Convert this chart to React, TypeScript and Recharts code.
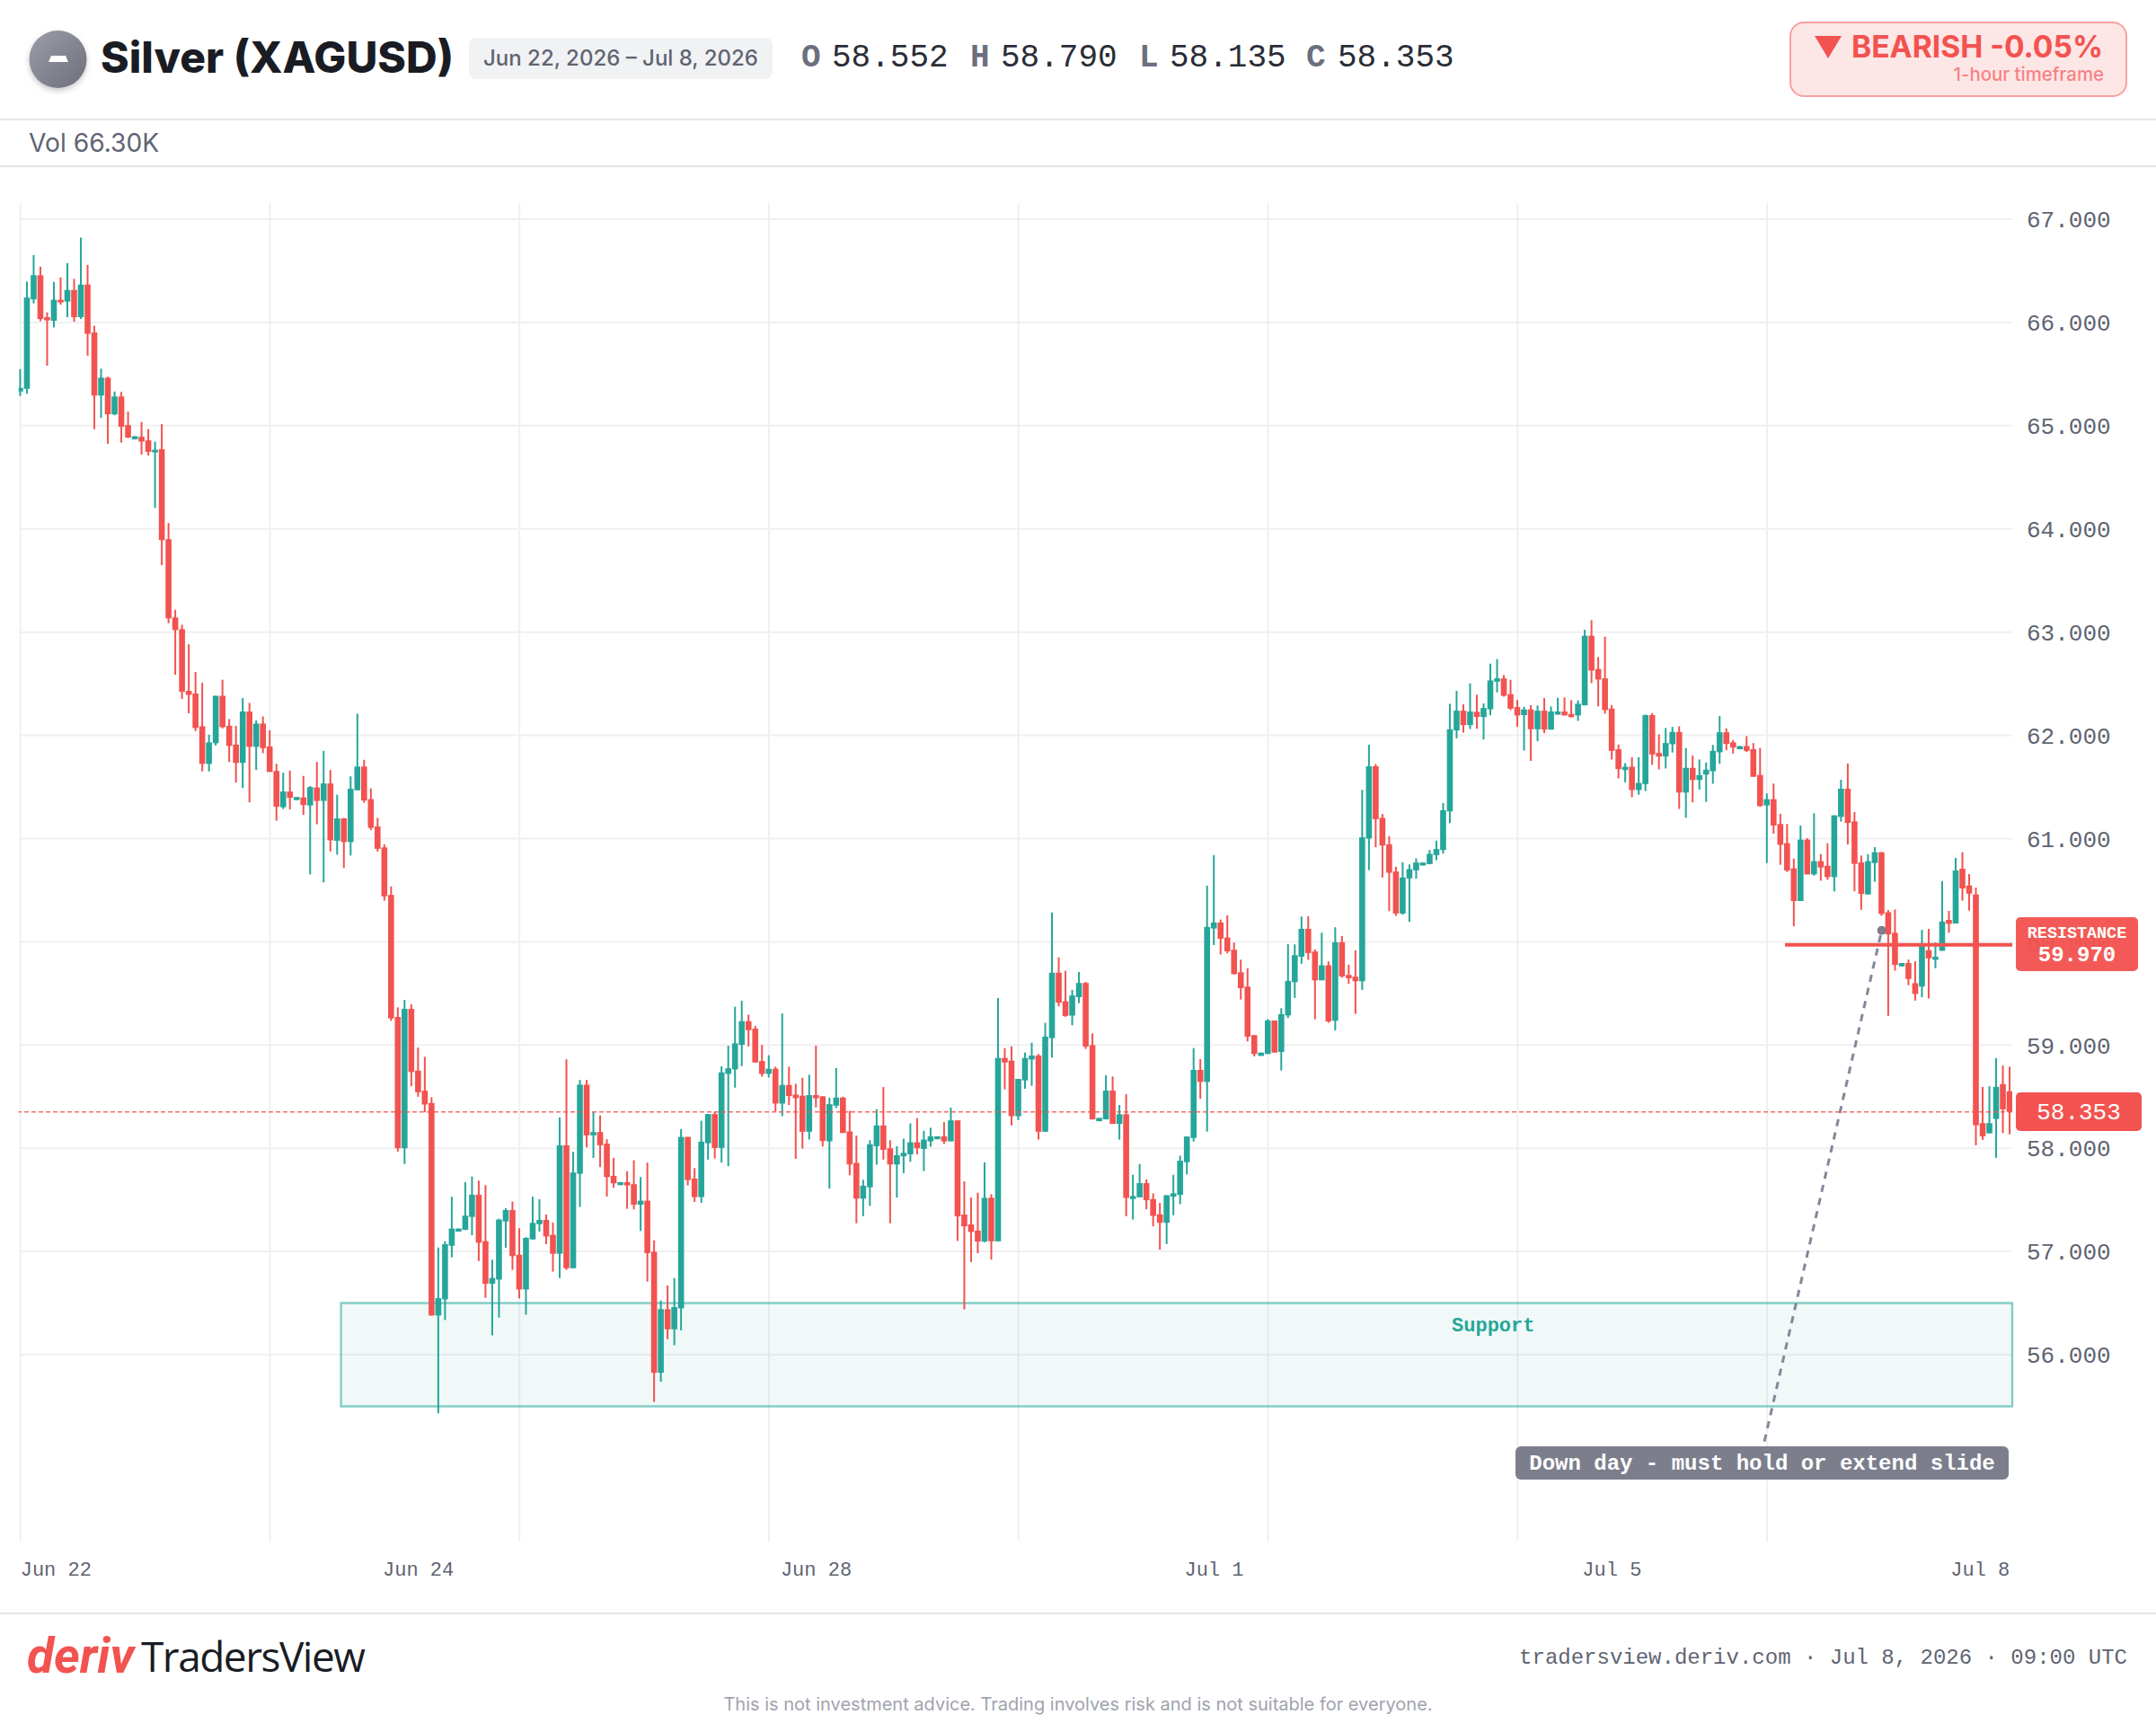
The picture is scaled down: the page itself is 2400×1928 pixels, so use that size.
import React from "react";
import {
  Bar,
  CartesianGrid,
  ComposedChart,
  ReferenceArea,
  ReferenceDot,
  ReferenceLine,
  XAxis,
  YAxis,
} from "recharts";

const opens = [
  65.331,65.357,66.224,66.458,66.051,66.016,66.220,66.202,66.315,66.051,
  66.367,65.903,65.292,65.465,65.110,65.283,65.006,64.867,64.893,64.858,
  64.741,64.772,63.900,63.142,63.029,62.431,62.405,62.088,61.724,61.924,
  62.383,62.093,61.911,61.733,62.231,61.889,62.114,61.893,61.655,61.304,
  61.456,61.373,61.399,61.321,61.495,61.365,61.534,60.979,61.195,60.966,
  61.468,61.698,61.382,61.117,60.914,60.454,59.272,58.000,59.350,58.752,
  58.558,58.439,56.380,56.536,57.056,57.193,57.210,57.335,57.550,57.100,
  56.687,56.728,57.291,57.402,56.969,56.632,57.117,57.265,57.306,57.161,
  56.978,58.029,56.838,57.753,58.616,58.125,58.157,58.044,57.733,57.643,
  57.672,57.652,57.454,57.492,56.998,55.825,56.441,56.246,56.449,58.110,
  57.707,57.527,58.049,58.331,58.003,58.720,58.764,59.002,59.231,59.159,
  58.845,58.721,58.770,58.433,58.613,58.520,58.509,58.160,58.515,58.503,
  58.067,58.413,58.491,58.163,57.858,57.512,57.622,58.020,58.221,58.000,
  57.843,57.922,57.942,58.058,57.994,58.067,58.087,58.116,58.067,58.270,
  57.358,57.262,57.203,57.096,57.520,57.099,58.875,58.849,58.311,58.657,
  58.860,58.898,58.160,59.067,59.701,59.424,59.285,59.464,59.601,59.000,
  58.262,58.280,58.559,58.236,58.329,57.508,57.525,57.662,57.508,57.360,
  57.278,57.531,57.548,57.865,58.100,58.759,58.643,60.129,60.187,60.042,
  59.923,59.705,59.566,59.096,58.895,58.913,59.238,58.933,59.287,59.609,
  59.856,60.126,59.906,59.627,59.772,59.235,59.996,59.679,59.662,59.618,
  61.000,61.701,61.200,60.945,60.681,60.274,60.614,60.692,60.739,60.753,
  60.840,60.889,61.263,62.048,62.239,62.099,62.228,62.178,62.253,62.520,
  62.552,62.399,62.274,62.196,62.251,62.059,62.239,62.056,62.201,62.231,
  62.208,62.193,62.291,62.965,62.643,62.552,62.259,61.865,61.664,61.696,
  61.470,61.528,62.196,61.830,61.795,61.914,62.033,61.446,61.685,61.568,
  61.621,61.653,61.836,62.030,61.932,61.865,61.896,61.866,61.617,61.321,
  61.382,61.141,60.955,60.711,60.395,60.990,60.653,60.781,60.737,60.627,
  61.210,61.483,61.167,60.769,60.459,60.763,60.868,60.287,60.087,59.762,
  59.794,59.599,59.567,59.919,59.826,59.913,60.212,60.177,60.708,60.546,
  60.459,58.243,58.145,58.284,58.621,58.552,
];

const closes = [
  65.366,66.241,66.458,66.033,66.020,66.220,66.194,66.315,66.051,66.367,
  65.890,65.292,65.465,65.110,65.283,64.989,64.885,64.898,64.846,64.746,
  64.767,63.892,63.133,63.020,62.422,62.392,62.071,61.724,61.932,62.383,
  62.080,61.898,61.733,62.231,61.889,62.114,61.876,61.646,61.308,61.456,
  61.395,61.403,61.325,61.499,61.365,61.534,60.983,61.195,60.966,61.482,
  61.698,61.369,61.104,60.901,60.441,59.258,58.000,59.350,58.738,58.543,
  58.424,56.380,56.548,57.071,57.222,57.222,57.347,57.550,57.085,56.687,
  56.743,57.309,57.402,56.955,56.632,57.132,57.277,57.306,57.146,56.978,
  58.029,56.838,57.765,58.616,58.125,58.157,58.029,57.721,57.660,57.672,
  57.640,57.454,57.492,56.984,55.825,56.441,56.246,56.461,58.110,57.692,
  57.527,58.064,58.331,58.003,58.735,58.775,59.016,59.231,59.144,58.831,
  58.720,58.770,58.433,58.613,58.506,58.485,58.160,58.515,58.485,58.070,
  58.427,58.491,58.148,57.843,57.512,57.637,58.038,58.221,57.985,57.843,
  57.933,57.956,58.058,58.000,58.084,58.116,58.116,58.067,58.270,57.340,
  57.244,57.189,57.096,57.520,57.099,58.875,58.831,58.311,58.672,58.875,
  58.898,58.160,59.081,59.701,59.410,59.282,59.480,59.601,58.985,58.280,
  58.294,58.559,58.236,58.329,57.519,57.537,57.662,57.496,57.345,57.278,
  57.545,57.563,57.879,58.114,58.759,58.643,60.144,60.187,60.030,59.908,
  59.688,59.551,59.081,58.913,58.927,59.238,58.927,59.299,59.621,59.871,
  60.126,59.891,59.627,59.772,59.229,59.996,59.665,59.647,59.618,61.012,
  61.701,61.188,60.933,60.669,60.274,60.623,60.704,60.768,60.768,60.852,
  60.898,61.275,62.059,62.239,62.099,62.231,62.178,62.265,62.532,62.552,
  62.384,62.259,62.193,62.251,62.059,62.239,62.056,62.231,62.231,62.193,
  62.176,62.306,62.965,62.628,62.541,62.245,61.850,61.673,61.696,61.470,
  61.539,62.196,61.815,61.795,61.926,62.033,61.446,61.685,61.568,61.615,
  61.667,61.850,62.030,61.917,61.882,61.896,61.850,61.599,61.315,61.382,
  61.126,60.940,60.691,60.395,60.990,60.653,60.781,60.720,60.627,61.225,
  61.483,61.152,60.755,60.464,60.781,60.868,60.270,60.072,59.776,59.794,
  59.640,59.495,59.971,59.840,59.855,60.197,60.174,60.691,60.517,60.467,
  58.223,58.116,58.243,58.595,58.377,58.353,
];

const highs = [
  65.548,66.397,66.653,66.540,66.098,66.393,66.436,66.575,66.423,66.822,
  66.558,65.968,65.552,65.474,65.331,65.327,65.136,64.898,65.036,64.967,
  64.846,65.015,64.057,63.216,63.072,62.882,62.613,62.509,62.006,62.383,
  62.539,62.158,62.093,62.361,62.314,62.145,62.184,62.049,61.724,61.638,
  61.659,61.403,61.607,61.508,61.742,61.850,61.664,61.425,61.200,61.603,
  62.210,61.763,61.486,61.200,60.944,60.537,59.365,59.437,59.394,58.976,
  58.886,58.494,57.039,57.100,57.530,57.222,57.672,57.727,57.686,57.643,
  56.920,57.318,57.419,57.483,57.225,57.138,57.530,57.506,57.358,57.280,
  58.299,58.862,57.965,58.662,58.662,58.351,58.319,58.087,57.907,57.672,
  57.779,57.884,57.721,57.861,57.108,56.525,56.670,56.743,58.186,58.110,
  57.808,58.267,58.331,58.354,58.793,58.993,59.371,59.429,59.295,59.185,
  59.002,58.901,58.791,59.305,58.791,58.625,58.683,58.712,58.994,58.503,
  58.491,58.776,58.500,58.363,58.122,57.695,58.078,58.378,58.593,58.078,
  58.020,58.093,58.241,58.291,58.169,58.198,58.116,58.253,58.395,58.270,
  57.680,57.523,57.570,57.863,57.555,59.456,58.971,58.988,58.672,58.927,
  59.023,58.913,59.215,60.284,59.849,59.719,59.535,59.708,59.612,59.113,
  58.294,58.707,58.695,58.419,58.524,57.743,57.847,57.699,57.563,57.470,
  57.545,57.743,57.929,58.114,58.971,58.863,60.544,60.840,60.216,60.257,
  59.993,59.827,59.743,59.096,58.927,59.252,59.238,59.357,59.978,59.975,
  60.245,60.248,59.926,60.088,59.810,60.141,60.057,59.778,59.917,61.472,
  61.910,61.722,61.238,61.023,60.727,60.771,60.750,60.808,60.768,60.890,
  60.980,61.345,62.306,62.431,62.300,62.503,62.393,62.309,62.695,62.739,
  62.584,62.538,62.344,62.277,62.292,62.289,62.361,62.280,62.364,62.367,
  62.341,62.338,63.023,63.116,62.759,62.956,62.294,61.911,61.731,61.789,
  61.789,62.202,62.216,62.010,62.071,62.082,62.088,61.876,61.804,61.766,
  61.737,61.908,62.187,62.068,61.955,61.896,61.992,61.925,61.878,61.437,
  61.533,61.239,61.141,60.807,61.126,61.004,61.245,60.850,60.955,61.225,
  61.570,61.727,61.257,60.836,60.848,60.917,60.868,60.308,60.313,59.794,
  59.828,59.811,60.116,60.125,59.994,60.589,60.299,60.813,60.868,60.656,
  60.525,58.595,58.601,58.873,58.801,58.790,
];

const lows = [
  65.288,65.309,66.185,66.012,65.582,65.951,66.172,66.051,66.007,66.033,
  65.678,64.967,65.075,64.824,65.101,64.837,64.880,64.867,64.720,64.711,
  64.204,63.649,63.086,62.587,62.353,62.214,62.041,61.651,61.651,61.902,
  62.067,61.742,61.542,61.490,61.351,61.664,61.828,61.646,61.174,61.286,
  61.282,61.373,61.230,60.653,61.139,60.575,60.875,60.844,60.714,60.836,
  61.468,61.347,61.083,60.875,60.398,59.234,57.968,57.849,58.601,58.499,
  58.348,56.380,55.433,56.336,56.943,57.193,57.207,57.158,56.908,56.551,
  56.188,56.359,57.036,56.821,56.545,56.388,57.117,57.193,57.071,56.804,
  56.743,56.821,56.838,57.431,58.009,57.907,57.817,57.532,57.617,57.643,
  57.413,57.408,57.198,56.708,55.543,55.738,56.150,56.092,56.237,57.640,
  57.480,57.471,57.890,57.901,57.861,57.826,58.587,58.796,58.987,58.831,
  58.694,58.686,58.355,58.311,58.419,57.898,57.997,58.084,58.395,58.017,
  57.610,58.390,58.148,57.738,57.273,57.343,57.442,57.840,57.890,57.273,
  57.523,57.759,57.869,57.942,57.779,58.015,58.087,58.041,58.067,57.102,
  56.439,56.898,56.983,57.090,56.921,57.099,58.570,58.221,58.273,58.576,
  58.605,58.084,58.160,58.878,59.375,59.273,59.192,59.406,58.962,58.280,
  58.262,58.280,58.236,58.083,57.342,57.310,57.525,57.409,57.244,57.017,
  57.072,57.351,57.458,57.746,58.065,58.480,58.161,59.969,59.877,59.888,
  59.682,59.441,59.035,58.890,58.895,58.913,58.927,58.753,59.261,59.456,
  59.787,59.824,59.250,59.627,59.215,59.142,59.653,59.592,59.302,59.534,
  60.695,60.916,60.623,60.297,60.251,60.263,60.193,60.611,60.739,60.753,
  60.791,60.854,61.150,61.971,62.027,62.061,62.064,61.960,62.195,62.416,
  62.375,62.245,62.082,61.853,61.752,61.944,62.021,62.056,62.201,62.193,
  62.176,62.140,62.291,62.506,62.280,62.210,61.766,61.583,61.545,61.400,
  61.424,61.461,61.714,61.670,61.679,61.833,61.287,61.202,61.351,61.475,
  61.356,61.531,61.725,61.856,61.824,61.865,61.838,61.599,61.309,60.763,
  61.048,60.746,60.676,60.151,60.395,60.653,60.641,60.592,60.601,60.488,
  61.164,60.943,60.490,60.310,60.459,60.583,60.252,59.283,59.721,59.762,
  59.579,59.431,59.463,59.451,59.744,59.913,60.087,60.177,60.398,60.302,
  58.029,58.081,58.145,57.907,58.148,58.135,
];

const priceTicks = [56, 57, 58, 59, 60, 61, 62, 63, 64, 65, 66, 67];
const dateTicks = [0, 59, 118, 177, 236, 295];
const dateLabels = ["Jun 22", "Jun 24", "Jun 28", "Jul 1", "Jul 5", "Jul 8"];
const gridTicks = [0, 37, 74, 111, 148, 185, 222, 259];

const lastPrice = 58.353;
const resistance = 59.97;
const supportLow = 55.5;
const supportHigh = 56.5;

const GREEN = "#26a69a";
const RED = "#f25350";
const GREY = "#7c7e8c";
const MONO = "'Liberation Mono', monospace";
const SANS = "Inter, sans-serif";

const candles = opens.map((open, i) => ({
  idx: i,
  open,
  close: closes[i],
  high: highs[i],
  low: lows[i],
  range: [lows[i], highs[i]],
}));

// body and wick are both worked out from the bar recharts gives for [low, high]
const Candle = (props: any) => {
  const { x, y, width, height, payload } = props;
  const top = Math.min(y, y + height);
  const perUnit = Math.abs(height) / (payload.high - payload.low);
  const color = payload.close >= payload.open ? GREEN : RED;
  const cx = x + width / 2;
  const bodyTop = top + (payload.high - Math.max(payload.open, payload.close)) * perUnit;
  const bodyH = Math.abs(payload.open - payload.close) * perUnit;
  return (
    <g>
      <rect x={cx - 1} y={top} width={2} height={Math.abs(height)} fill={color} />
      <rect x={cx - 3.3} y={bodyTop} width={6.6} height={Math.max(bodyH, 2)} fill={color} />
    </g>
  );
};

const DateTick = (props: any) => {
  const { x, y, payload } = props;
  const pos = dateTicks.indexOf(payload.value);
  let anchor = "middle";
  if (pos === 0) anchor = "start";
  if (pos === dateTicks.length - 1) anchor = "end";
  return (
    <text x={x} y={y} dy={30} textAnchor={anchor} fontFamily={MONO} fontSize={22} fill="#5f6472">
      {dateLabels[pos]}
    </text>
  );
};

const Abs = ({ style, children }: any) => (
  <div style={{ position: "absolute", whiteSpace: "nowrap", ...style }}>{children}</div>
);

const ohlc = [
  { key: "O", value: "58.552", keyX: 892, valueX: 926 },
  { key: "H", value: "58.790", keyX: 1080, valueX: 1114 },
  { key: "L", value: "58.135", keyX: 1268, valueX: 1302 },
  { key: "C", value: "58.353", keyX: 1454, valueX: 1489 },
];

const Header = () => (
  <>
    <svg style={{ position: "absolute", left: 20, top: 20 }} width={100} height={100}>
      <defs>
        <linearGradient id="coin" x1="0" y1="0" x2="1" y2="1">
          <stop offset="0%" stopColor="#9c9ea9" />
          <stop offset="100%" stopColor="#6c6e7b" />
        </linearGradient>
        <filter id="coinShadow" x="-30%" y="-30%" width="160%" height="160%">
          <feDropShadow dx="0" dy="3" stdDeviation="3" floodColor="#000" floodOpacity="0.22" />
        </filter>
      </defs>
      <circle cx={44.5} cy={46} r={32} fill="url(#coin)" filter="url(#coinShadow)" />
      <polygon points="37,42 53,42 56,49 34,49" fill="#fff" />
    </svg>
    <Abs style={{ left: 112, top: 34, fontFamily: SANS, fontWeight: 800, fontSize: 48, lineHeight: "60px", color: "#1a1c24" }}>
      Silver (XAGUSD)
    </Abs>
    <Abs style={{ left: 522, top: 42, width: 338, height: 46, background: "#f1f2f4", borderRadius: 8, textAlign: "center", fontFamily: SANS, fontWeight: 500, fontSize: 24, lineHeight: "46px", color: "#5f6472" }}>
      Jun 22, 2026 – Jul 8, 2026
    </Abs>
    {ohlc.map((o) => (
      <React.Fragment key={o.key}>
        <Abs style={{ left: o.keyX, top: 43, fontFamily: MONO, fontWeight: 700, fontSize: 36, lineHeight: "44px", color: "#6b6f7d" }}>{o.key}</Abs>
        <Abs style={{ left: o.valueX, top: 43, fontFamily: MONO, fontSize: 36, lineHeight: "44px", color: "#2a2d36" }}>{o.value}</Abs>
      </React.Fragment>
    ))}
    <div style={{ position: "absolute", left: 1992, top: 24, width: 372, height: 80, background: "#fde6e6", border: "2px solid #f9a0a0", borderRadius: 16 }} />
    <svg style={{ position: "absolute", left: 2020, top: 40 }} width={32} height={26}>
      <polygon points="0,0 30,0 15,25" fill={RED} />
    </svg>
    <Abs style={{ right: 59, top: 30, fontFamily: SANS, fontWeight: 700, fontSize: 33.6, lineHeight: "44px", color: RED }}>
      BEARISH -0.05%
    </Abs>
    <Abs style={{ right: 58, top: 69, fontFamily: SANS, fontWeight: 500, fontSize: 20.4, lineHeight: "28px", color: "#f68383" }}>
      1-hour timeframe
    </Abs>
    <div style={{ position: "absolute", left: 0, top: 132, width: 2400, height: 2, background: "#e4e4ea" }} />
    <Abs style={{ left: 32, top: 141, fontFamily: SANS, fontSize: 28.2, lineHeight: "36px", color: "#5f6472" }}>Vol 66.30K</Abs>
    <div style={{ position: "absolute", left: 0, top: 184, width: 2400, height: 2, background: "#e4e4ea" }} />
  </>
);

const PriceTags = () => (
  <>
    <div style={{ position: "absolute", left: 2244, top: 1021, width: 136, height: 60, background: RED, opacity: 0.96, borderRadius: 5 }} />
    <Abs style={{ left: 2244, width: 136, top: 1029, textAlign: "center", fontFamily: MONO, fontWeight: 700, fontSize: 18.4, lineHeight: "22px", color: "#fff" }}>RESISTANCE</Abs>
    <Abs style={{ left: 2244, width: 136, top: 1049, textAlign: "center", fontFamily: MONO, fontWeight: 700, fontSize: 24, lineHeight: "30px", color: "#fff" }}>59.970</Abs>
    <Abs style={{ left: 2244, top: 1216, width: 140, height: 43, background: RED, borderRadius: 5, textAlign: "center", fontFamily: MONO, fontSize: 26, lineHeight: "46px", color: "#fff" }}>58.353</Abs>
    <Abs style={{ left: 1687, top: 1610, width: 549, height: 37, background: GREY, borderRadius: 6, textAlign: "center", fontFamily: MONO, fontWeight: 700, fontSize: 24, lineHeight: "40px", color: "#fff" }}>
      Down day - must hold or extend slide
    </Abs>
  </>
);

const Footer = () => (
  <>
    <div style={{ position: "absolute", left: 0, top: 1795, width: 2400, height: 2, background: "#e4e4ea" }} />
    <Abs style={{ left: 30, top: 1813, fontFamily: "Roboto, sans-serif", fontStyle: "italic", fontWeight: 700, fontSize: 55, lineHeight: "60px", color: RED }}>deriv</Abs>
    <Abs style={{ left: 157, top: 1813, fontFamily: "'Open Sans', sans-serif", fontSize: 46, letterSpacing: -1.5, lineHeight: "60px", color: "#1a1c24" }}>TradersView</Abs>
    <Abs style={{ right: 32, top: 1831, fontFamily: MONO, fontSize: 24, lineHeight: "30px", color: "#5f6472" }}>
      tradersview.deriv.com · Jul 8, 2026 · 09:00 UTC
    </Abs>
    <Abs style={{ left: 0, width: 2400, top: 1883, textAlign: "center", fontFamily: SANS, fontSize: 20, lineHeight: "28px", color: "#a0a3ad" }}>
      This is not investment advice. Trading involves risk and is not suitable for everyone.
    </Abs>
  </>
);

export default function App() {
  return (
    <div style={{ position: "absolute", left: 0, top: 0, width: 2400, height: 1928, background: "#fff", overflow: "hidden" }}>
      <ComposedChart
        width={2400}
        height={1928}
        data={candles}
        margin={{ top: 226, right: 0, bottom: 0, left: 20.7 }}
      >
        <CartesianGrid
          stroke="#f0f0f3"
          strokeWidth={2}
          horizontalValues={priceTicks}
          verticalValues={gridTicks}
        />
        <XAxis
          dataKey="idx"
          type="number"
          domain={[-0.266, 295.36]}
          allowDataOverflow
          ticks={dateTicks}
          interval={0}
          height={212}
          axisLine={false}
          tickLine={false}
          tick={<DateTick />}
        />
        <YAxis
          orientation="right"
          domain={[54.19, 67.157]}
          allowDataOverflow
          ticks={priceTicks}
          interval={0}
          width={160}
          axisLine={false}
          tickLine={false}
          tickMargin={10}
          tickFormatter={(v: number) => v.toFixed(3)}
          tick={{ fontFamily: MONO, fontSize: 26, fill: "#5f6472" }}
        />
        <ReferenceLine y={lastPrice} stroke={RED} strokeWidth={1.5} strokeDasharray="5 3" strokeOpacity={0.85} />
        <Bar dataKey="range" barSize={7} shape={<Candle />} isAnimationActive={false} />
        <ReferenceArea
          x1={47.54}
          x2={295.36}
          y1={supportLow}
          y2={supportHigh}
          fill={GREEN}
          fillOpacity={0.07}
          stroke={GREEN}
          strokeOpacity={0.55}
          strokeWidth={2.4}
        />
        <ReferenceDot
          x={218.4}
          y={56.295}
          r={1}
          fill="none"
          stroke="none"
          label={{ value: "Support", position: "center", fill: GREEN, fontFamily: MONO, fontWeight: 700, fontSize: 22 }}
        />
        <ReferenceLine
          segment={[{ x: 261.66, y: resistance }, { x: 295.36, y: resistance }]}
          stroke={RED}
          strokeWidth={4}
        />
        <ReferenceLine
          segment={[{ x: 258.6, y: 55.16 }, { x: 276, y: 60.11 }]}
          stroke="#85879a"
          strokeWidth={3}
          strokeDasharray="8 7"
        />
        <ReferenceDot x={276} y={60.11} r={5} fill={GREY} stroke="none" />
      </ComposedChart>
      <Header />
      <PriceTags />
      <Footer />
    </div>
  );
}
